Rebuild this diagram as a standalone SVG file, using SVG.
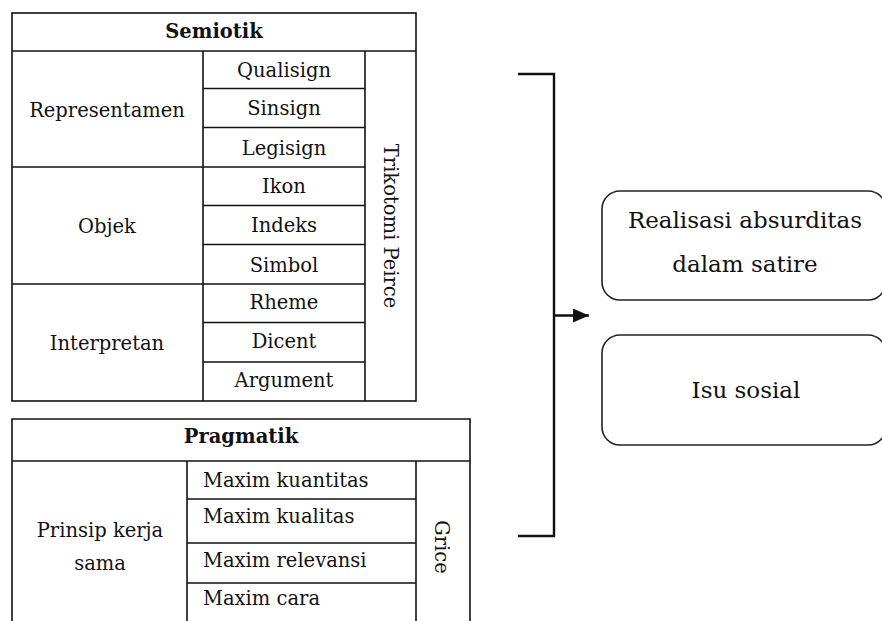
<svg xmlns="http://www.w3.org/2000/svg" width="882" height="621" viewBox="0 0 882 621">
<style>
.ln{stroke:#111;stroke-width:1.6;fill:none}
.t{font-family:"DejaVu Serif","Liberation Serif",serif;font-size:19.5px;fill:#111;text-anchor:middle}
.tl{font-family:"DejaVu Serif","Liberation Serif",serif;font-size:19.5px;fill:#111}
.b{font-weight:bold}
.big{font-family:"DejaVu Serif","Liberation Serif",serif;font-size:23px;fill:#111;text-anchor:middle}
.box{fill:#fff;stroke:#222;stroke-width:1.6}
.con{stroke:#111;stroke-width:2.4;fill:none}
</style>
<defs>
<marker id="ah" markerWidth="16" markerHeight="14" refX="16" refY="7" orient="auto" markerUnits="userSpaceOnUse" viewBox="0 0 16 14">
<path d="M0,0 L16,7 L0,14 z" fill="#111"/>
</marker>
</defs>
<rect width="882" height="621" fill="#fff"/>
<g id="semiotik">
<rect class="ln" x="12" y="13" width="404" height="388"/>
<line class="ln" x1="12" y1="51" x2="416" y2="51"/>
<line class="ln" x1="203" y1="51" x2="203" y2="401"/>
<line class="ln" x1="365" y1="51" x2="365" y2="401"/>
<line class="ln" x1="12" y1="167" x2="365" y2="167"/>
<line class="ln" x1="12" y1="284" x2="365" y2="284"/>
<line class="ln" x1="203" y1="88.5" x2="365" y2="88.5"/>
<line class="ln" x1="203" y1="127.5" x2="365" y2="127.5"/>
<line class="ln" x1="203" y1="205.5" x2="365" y2="205.5"/>
<line class="ln" x1="203" y1="244.5" x2="365" y2="244.5"/>
<line class="ln" x1="203" y1="322.5" x2="365" y2="322.5"/>
<line class="ln" x1="203" y1="362" x2="365" y2="362"/>
<text class="t b" x="214" y="38">Semiotik</text>
<text class="t" x="107" y="117">Representamen</text>
<text class="t" x="107" y="233">Objek</text>
<text class="t" x="107" y="350">Interpretan</text>
<text class="t" x="284" y="77">Qualisign</text>
<text class="t" x="284" y="115">Sinsign</text>
<text class="t" x="284" y="155">Legisign</text>
<text class="t" x="284" y="193">Ikon</text>
<text class="t" x="284" y="232">Indeks</text>
<text class="t" x="284" y="272">Simbol</text>
<text class="t" x="284" y="309">Rheme</text>
<text class="t" x="284" y="348">Dicent</text>
<text class="t" x="284" y="387">Argument</text>
<text class="t" transform="translate(384,226) rotate(90)">Trikotomi Peirce</text>
</g>
<g id="pragmatik">
<path class="ln" d="M12,625 V419 H470 V625"/>
<line class="ln" x1="12" y1="461" x2="470" y2="461"/>
<line class="ln" x1="187" y1="461" x2="187" y2="625"/>
<line class="ln" x1="416" y1="461" x2="416" y2="625"/>
<line class="ln" x1="187" y1="499" x2="416" y2="499"/>
<line class="ln" x1="187" y1="543" x2="416" y2="543"/>
<line class="ln" x1="187" y1="583" x2="416" y2="583"/>
<text class="t b" x="241" y="443">Pragmatik</text>
<text class="t" x="100" y="537">Prinsip kerja</text>
<text class="t" x="100" y="570">sama</text>
<text class="tl" x="203" y="487">Maxim kuantitas</text>
<text class="tl" x="203" y="523">Maxim kualitas</text>
<text class="tl" x="203" y="567">Maxim relevansi</text>
<text class="tl" x="203" y="605">Maxim cara</text>
<text class="t" transform="translate(435,547) rotate(90)">Grice</text>
</g>
<g id="connectors">
<path class="con" d="M518,74 H554 V536 H518"/>
<line class="con" x1="554" y1="315.5" x2="589" y2="315.5" stroke-width="4" marker-end="url(#ah)"/>
</g>
<g id="realisasi">
<rect class="box" x="602" y="191" width="284" height="109" rx="18" ry="18"/>
<text class="big" x="745" y="228">Realisasi absurditas</text>
<text class="big" x="745" y="272">dalam satire</text>
</g>
<g id="isu">
<rect class="box" x="602" y="335" width="284" height="110" rx="18" ry="18"/>
<text class="big" x="746" y="398">Isu sosial</text>
</g>
</svg>
